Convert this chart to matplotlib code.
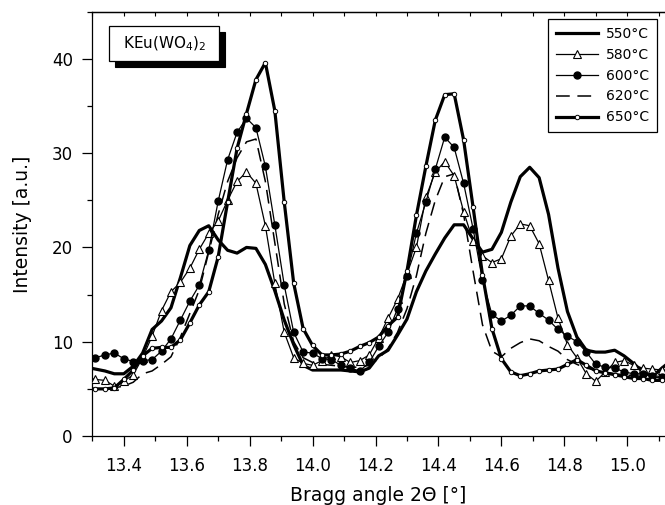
import matplotlib.pyplot as plt
from matplotlib.patches import Rectangle
from matplotlib.ticker import MultipleLocator

# ------------------------------------------
# Diffraction scans of KEu(WO4)2 after annealing
# ------------------------------------------
two_theta = [13.28, 13.31, 13.34, 13.37, 13.40, 13.43, 13.46, 13.49, 13.52, 13.55,
             13.58, 13.61, 13.64, 13.67, 13.70, 13.73, 13.76, 13.79, 13.82, 13.85,
             13.88, 13.91, 13.94, 13.97, 14.00, 14.03, 14.06, 14.09, 14.12, 14.15,
             14.18, 14.21, 14.24, 14.27, 14.30, 14.33, 14.36, 14.39, 14.42, 14.45,
             14.48, 14.51, 14.54, 14.57, 14.60, 14.63, 14.66, 14.69, 14.72, 14.75,
             14.78, 14.81, 14.84, 14.87, 14.90, 14.93, 14.96, 14.99, 15.02, 15.05,
             15.08, 15.11, 15.14]

i_550 = [7.3, 7.1, 6.9, 6.6, 6.6, 7.4, 8.8, 11.3, 12.2, 13.6,
         16.8, 20.2, 21.8, 22.3, 20.8, 19.7, 19.4, 20.0, 19.9, 18.2,
         15.4, 12.3, 9.7, 7.5, 7.0, 7.0, 7.0, 7.0, 6.9, 6.8,
         7.2, 8.5, 9.1, 10.7, 12.4, 15.3, 17.5, 19.3, 21.0, 22.4,
         22.4, 20.9, 19.5, 19.8, 21.6, 24.8, 27.5, 28.5, 27.4, 23.5,
         17.8, 13.2, 10.5, 9.1, 8.9, 8.9, 9.1, 8.5, 7.7, 6.8,
         6.3, 7.2, 8.0]

i_580 = [6.3, 6.0, 5.9, 5.3, 5.8, 6.5, 8.3, 10.6, 13.3, 15.3,
         16.3, 17.8, 19.8, 21.5, 22.8, 25.0, 27.0, 28.0, 26.8, 22.3,
         16.2, 11.0, 8.3, 7.7, 7.5, 8.0, 8.6, 8.4, 7.8, 8.0,
         8.6, 10.4, 12.5, 14.5, 17.2, 20.0, 25.3, 28.0, 29.1, 27.6,
         23.8, 20.7, 19.1, 18.4, 18.8, 21.2, 22.5, 22.3, 20.4, 16.5,
         12.5, 9.7, 8.3, 6.6, 5.8, 6.8, 7.8, 8.0, 7.5, 7.2,
         7.1, 7.0, 7.0]

i_600 = [8.6, 8.3, 8.6, 8.8, 8.2, 7.9, 8.0, 8.1, 9.0, 10.3,
         12.3, 14.3, 16.0, 19.7, 24.9, 29.3, 32.2, 33.7, 32.7, 28.6,
         22.4, 16.0, 11.0, 8.9, 8.8, 8.2, 8.1, 7.5, 7.2, 6.9,
         7.8, 9.5, 11.0, 13.5, 17.0, 21.5, 24.8, 28.3, 31.7, 30.6,
         26.8, 22.0, 16.5, 12.9, 12.2, 12.8, 13.8, 13.8, 13.0, 12.3,
         11.3, 10.6, 10.0, 8.9, 7.6, 7.3, 7.2, 6.8, 6.6, 6.6,
         6.4, 6.3, 6.3]

i_620 = [5.0, 5.0, 5.0, 5.1, 5.3, 5.7, 6.6, 6.9, 7.6, 8.4,
         10.5, 13.0, 15.5, 19.5, 23.5, 27.0, 29.5, 31.2, 31.5, 27.0,
         20.5, 14.0, 10.0, 8.3, 7.8, 7.6, 7.5, 7.4, 7.3, 7.3,
         7.5, 8.2, 9.3, 11.0, 13.5, 17.0, 21.5, 25.0, 27.5, 27.8,
         23.5, 17.5, 11.8, 9.0, 8.4, 9.3, 9.9, 10.3, 10.1, 9.5,
         9.0, 8.1, 7.6, 7.2, 7.0, 6.8, 6.6, 6.5, 6.4, 6.3,
         6.2, 6.2, 6.2]

i_650 = [5.0, 5.0, 5.0, 5.1, 6.0, 7.0, 8.5, 9.3, 9.4, 9.4,
         10.2, 12.0, 13.9, 15.3, 19.0, 24.8, 30.5, 34.2, 37.8, 39.6,
         34.5, 24.8, 16.2, 11.4, 9.6, 8.6, 8.6, 8.7, 9.0, 9.5,
         9.9, 10.5, 11.7, 12.6, 17.5, 23.4, 28.6, 33.5, 36.2, 36.3,
         31.4, 24.3, 17.1, 11.4, 8.2, 6.8, 6.4, 6.6, 6.9, 7.0,
         7.1, 7.6, 8.1, 7.5, 6.9, 6.7, 6.5, 6.3, 6.1, 6.1,
         5.9, 5.9, 5.9]

labels = ['550°C', '580°C', '600°C', '620°C', '650°C']

# ------------------------------------------
# Figure
# ------------------------------------------
plt.rcParams['font.family'] = ['DejaVu Sans']
plt.rcParams['mathtext.fontset'] = 'dejavusans'

fig = plt.figure(figsize=(6.65, 5.05), dpi=100)
ax = fig.add_axes([0.1388, 0.1366, 0.8612, 0.8402])

ax.plot(two_theta, i_550, color='black', lw=2.3, label=labels[0], zorder=3)
ax.plot(two_theta, i_580, color='black', lw=0.9, marker='^', ms=5.8,
        mfc='white', mec='black', mew=0.8, label=labels[1], zorder=4)
ax.plot(two_theta, i_600, color='black', lw=0.9, marker='o', ms=5,
        mfc='black', mec='black', label=labels[2], zorder=4)
ax.plot(two_theta, i_620, color='black', lw=1.1, dashes=(9, 5),
        label=labels[3], zorder=3)
ax.plot(two_theta, i_650, color='black', lw=2.3, marker='o', ms=3.2,
        mfc='white', mec='black', mew=0.7, label=labels[4], zorder=5)

ax.set_xlim(13.3, 15.12)
ax.set_ylim(0, 45)

ax.xaxis.set_major_locator(MultipleLocator(0.2))
ax.xaxis.set_minor_locator(MultipleLocator(0.1))
ax.yaxis.set_major_locator(MultipleLocator(10))
ax.yaxis.set_minor_locator(MultipleLocator(5))
ax.xaxis.set_major_formatter(lambda v, p: f'{v:.1f}')

ax.tick_params(which='major', direction='out', length=7, width=0.9,
               labelsize=12, top=False, right=False)
ax.tick_params(axis='x', which='major', pad=8)
ax.tick_params(axis='y', which='major', pad=7)
ax.tick_params(which='minor', direction='out', length=3.5, width=0.9,
               top=False, right=False)
for side in ['left', 'bottom', 'top']:
    ax.spines[side].set_linewidth(0.9)
ax.spines['right'].set_visible(False)

# small inward ticks along the top frame
top = ax.secondary_xaxis('top')
top.xaxis.set_major_locator(MultipleLocator(0.1))
top.tick_params(axis='x', direction='in', length=3, width=0.8, labeltop=False)
top.spines['top'].set_linewidth(0.9)

ax.set_xlabel('Bragg angle 2\u0398 [°]', fontsize=13.5, labelpad=8)
ax.set_ylabel('Intensity [a.u.]', fontsize=13.5, labelpad=14)

# sample name in a shadowed box
ax.add_patch(Rectangle((0.0402, 0.8697), 0.1921, 0.0825, transform=ax.transAxes,
                       fc='black', ec='black', lw=0.8, clip_on=False, zorder=6))
ax.add_patch(Rectangle((0.0297, 0.8838), 0.1921, 0.0825, transform=ax.transAxes,
                       fc='white', ec='black', lw=0.9, clip_on=False, zorder=7))
ax.text(0.1258, 0.925, 'KEu(WO$_4$)$_2$', transform=ax.transAxes, fontsize=11,
        ha='center', va='center', zorder=8)

leg = ax.legend(loc='upper right', bbox_to_anchor=(0.9855, 0.9828),
                borderaxespad=0, fontsize=10, handlelength=3.0, handletextpad=0.6,
                labelspacing=0.5, borderpad=0.55, numpoints=1, fancybox=False,
                framealpha=1, edgecolor='black')
leg.get_frame().set_linewidth(0.9)

fig.savefig('out.png', dpi=100)
